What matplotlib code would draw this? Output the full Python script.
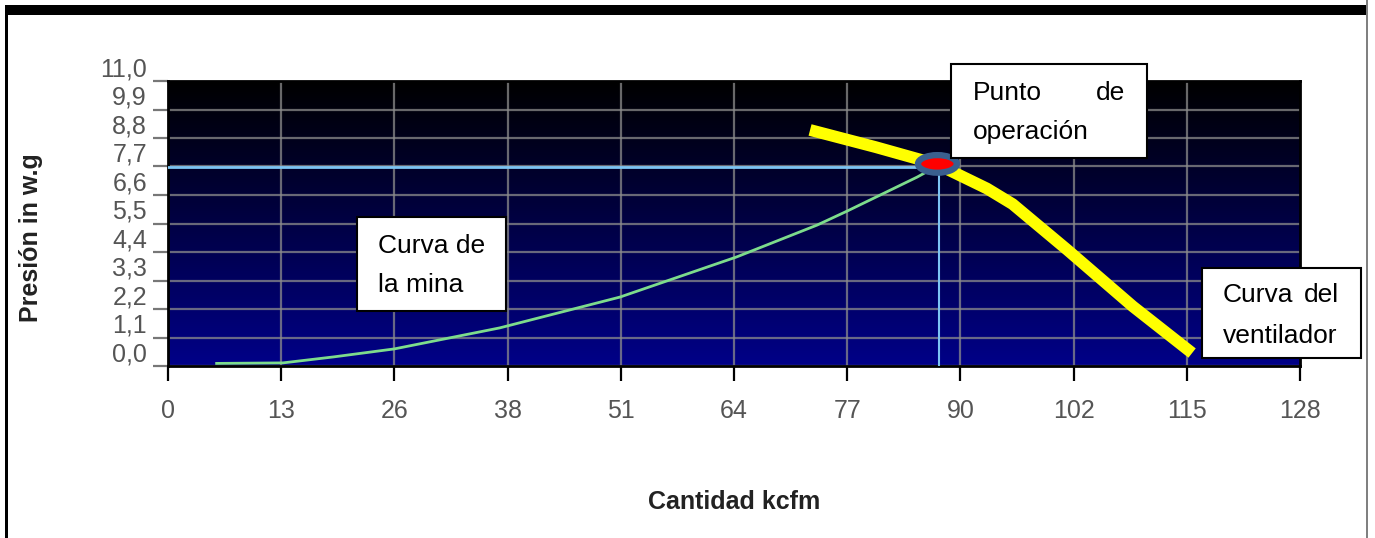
import numpy as np
import matplotlib.pyplot as plt
from matplotlib.colors import LinearSegmentedColormap
from matplotlib.patches import Ellipse, Rectangle
plt.switch_backend("agg")

plt.rcParams['font.family'] = ['Liberation Sans', 'DejaVu Sans']

W, H = 1375, 538

# curva de la mina (cantidad kcfm, presion in w.g)
mina_q = [5.5, 13.0, 18.7, 25.6, 37.5, 51.1, 64.3, 73.4, 76.8, 84.7, 87.0]
mina_p = [0.10, 0.12, 0.35, 0.66, 1.47, 2.66, 4.21, 5.44, 5.98, 7.29, 7.72]

# curva del ventilador
vent_q = [72.6, 80.0, 87.0, 92.6, 95.5, 101.7, 109.1, 115.8]
vent_p = [9.11, 8.45, 7.78, 6.85, 6.25, 4.48, 2.30, 0.50]

# punto de operacion
op_q, op_p = 87.0, 7.7

x_ticks = [12.8 * k for k in range(11)]
x_labels = ["0", "13", "26", "38", "51", "64", "77", "90", "102", "115", "128"]
y_ticks = [1.1 * k for k in range(11)]
y_labels = ["0,0", "1,1", "2,2", "3,3", "4,4", "5,5", "6,6", "7,7", "8,8", "9,9", "11,0"]


def fx(x):
    return x / W


def fy(y):
    return 1 - y / H


fig = plt.figure(figsize=(W / 100, H / 100), dpi=100)
fig.patch.set_facecolor("white")
ax = fig.add_axes([fx(168), fy(366), (1300 - 168) / W, (366 - 81) / H])

# fondo degradado
cmap = LinearSegmentedColormap.from_list("fondo", ["#000000", "#000088"])
grad = np.linspace(0, 1, 256).reshape(-1, 1)
ax.imshow(grad, cmap=cmap, aspect="auto", extent=[0, 128, 0, 11], zorder=0)
ax.set_xlim(0, 128)
ax.set_ylim(0, 11)

ax.set_xticks(x_ticks)
ax.set_xticklabels(x_labels)
ax.set_yticks(y_ticks)
ax.set_yticklabels([])
ax.grid(True, color="#8c8c8c", alpha=0.75, lw=1.6)
ax.get_ygridlines()[-1].set_visible(False)
ax.get_xgridlines()[0].set_visible(False)
ax.get_xgridlines()[-1].set_visible(False)

ax.tick_params(axis="x", length=11, width=1.6, color="black", pad=13,
               labelsize=18, labelcolor="#555555")
ax.tick_params(axis="y", length=11, width=1.6, color="#777777")
for s in ax.spines.values():
    s.set_color("black")
    s.set_linewidth(2)

# etiquetas del eje y (desplazadas medio paso hacia arriba)
for v, lab in zip(y_ticks, y_labels):
    ax.text(-0.0186, v + 0.55, lab, transform=ax.get_yaxis_transform(),
            ha="right", va="center_baseline", fontsize=18, color="#555555",
            clip_on=False)

ax.set_xlabel("Cantidad kcfm", fontsize=18, fontweight="bold", color="#222222")
ax.xaxis.set_label_coords(0.5, -0.435)
ax.set_ylabel("Presión in w.g", fontsize=18, fontweight="bold", color="#222222")
ax.yaxis.set_label_coords(-0.110, 0.449)

# lineas de referencia del punto de operacion
ax.plot([0, op_q], [op_p, op_p], color="#7cc4f4", lw=2, zorder=2.6)
ax.plot([op_q + 0.2, op_q + 0.2], [0, op_p], color="#7cc4f4", lw=1.5, zorder=2.6)

ax.plot(mina_q, mina_p, color="#7ddc8c", lw=2, zorder=3)
ax.plot(vent_q, vent_p, color="#ffff00", lw=8.5, solid_capstyle="butt",
        solid_joinstyle="round", zorder=4)

ax.add_patch(Ellipse((op_q, op_p + 0.1), width=4.4, height=0.68,
                     facecolor="#ff0000", edgecolor="#3a5f8f", lw=4.5, zorder=5))

# cuadros de texto
def box(x0, y0, x1, y1):
    fig.patches.append(Rectangle((fx(x0), fy(y1)), fx(x1) - fx(x0), fy(y0) - fy(y1),
                                 transform=fig.transFigure, facecolor="white",
                                 edgecolor="black", lw=1.5, zorder=10))


def txt(x, y, s, ha="left"):
    fig.text(fx(x), fy(y), s, ha=ha, va="baseline", fontsize=19,
             color="black", zorder=11)


box(357, 217, 506, 311)
txt(378, 253, "Curva de")
txt(378, 292, "la mina")

box(951, 64, 1147, 158)
txt(973, 100, "Punto")
txt(1125, 100, "de", ha="right")
txt(973, 139, "operación")

box(1202, 268, 1361, 358)
txt(1223, 302, "Curva")
txt(1339, 302, "del", ha="right")
txt(1223, 343, "ventilador")

# marco de la imagen
fig.patches.append(Rectangle((fx(5), fy(15)), fx(1367) - fx(5), fy(5) - fy(15),
                             transform=fig.transFigure, facecolor="black",
                             edgecolor="none", zorder=12))
fig.patches.append(Rectangle((fx(5), 0), fx(3), fy(5),
                             transform=fig.transFigure, facecolor="black",
                             edgecolor="none", zorder=12))
fig.patches.append(Rectangle((fx(1366), 0), fx(2), 1,
                             transform=fig.transFigure, facecolor="#808080",
                             edgecolor="none", zorder=12))

fig.savefig("out.png", dpi=100)
